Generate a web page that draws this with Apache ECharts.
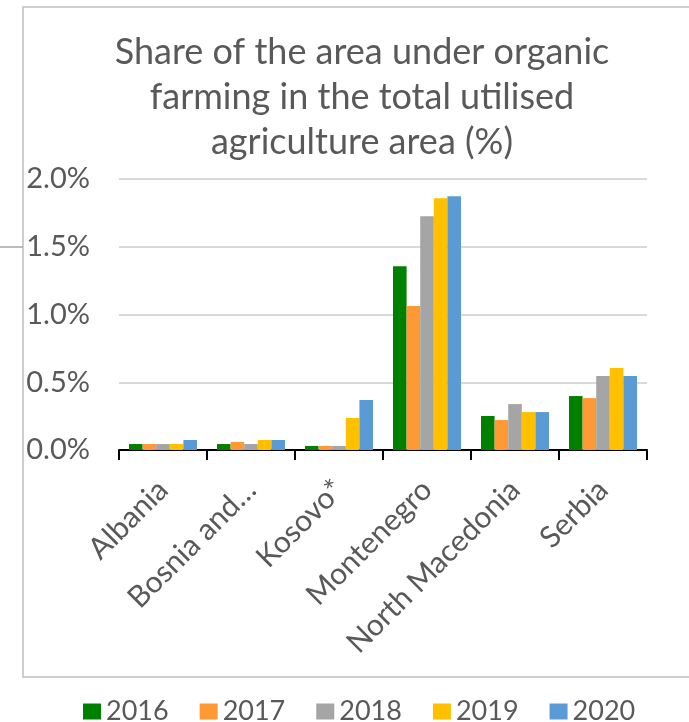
<!DOCTYPE html>
<html><head><meta charset="utf-8">
<script src="https://cdn.jsdelivr.net/npm/echarts@6/dist/echarts.min.js"></script>
<style>html,body{margin:0;padding:0;background:#fff;}#c{width:689px;height:722px;}</style>
</head><body><div id="c"></div>
<script>
const categories = ['Albania', 'Bosnia and…', 'Kosovo*', 'Montenegro', 'North Macedonia', 'Serbia'];
const years = ['2016', '2017', '2018', '2019', '2020'];
const v2016 = [0.044, 0.044, 0.03, 1.357, 0.251, 0.398];
const v2017 = [0.044, 0.059, 0.03, 1.062, 0.221, 0.383];
const v2018 = [0.044, 0.044, 0.03, 1.726, 0.339, 0.546];
const v2019 = [0.044, 0.074, 0.236, 1.858, 0.28, 0.605];
const v2020 = [0.074, 0.074, 0.369, 1.873, 0.28, 0.546];
const yTicks = [0, 0.5, 1.0, 1.5, 2.0];
const colors = ['#008000', '#FF9933', '#A5A5A5', '#FFC000', '#5B9BD5'];
const titleText = 'Share of the area under organic\nfarming in the total utilised\nagriculture area (%)';

const seriesValues = [v2016, v2017, v2018, v2019, v2020];
const FONT = 'Lato';
const chart = echarts.init(document.getElementById('c'));
chart.setOption({
  animation: false,
  color: colors,
  graphic: [
    { type: 'rect', shape: { x: 23, y: 7, width: 700, height: 670 }, style: { fill: 'none', stroke: '#BFBFBF', lineWidth: 1.5 }, z: -1 },
    { type: 'line', shape: { x1: 0, y1: 247, x2: 23, y2: 247 }, style: { stroke: '#A6A6A6', lineWidth: 1.5 } },
    { type: 'text', x: 362, y: 30, style: { text: titleText, fill: '#595959', font: '36px ' + FONT, align: 'center', verticalAlign: 'top', lineHeight: 45 } }
  ],
  grid: { left: 119, right: 42, top: 179, bottom: 272, containLabel: false },
  legend: {
    top: 693, left: 78, itemWidth: 18, itemHeight: 16, itemGap: 31, icon: 'rect',
    textStyle: { color: '#595959', fontSize: 27, fontFamily: FONT },
    data: years
  },
  xAxis: {
    type: 'category', data: categories,
    axisLine: { lineStyle: { color: '#000', width: 2 } },
    axisTick: { show: true, length: 10, lineStyle: { color: '#000', width: 2 } },
    axisLabel: { rotate: 45, interval: 0, margin: 35, color: '#595959', fontSize: 30, fontFamily: FONT }
  },
  yAxis: {
    type: 'value', min: 0, max: 2.0, interval: 0.5,
    axisLine: { show: false }, axisTick: { show: false },
    splitLine: { lineStyle: { color: '#D9D9D9', width: 2 } },
    axisLabel: { margin: 29, color: '#595959', fontSize: 29, fontFamily: FONT,
      formatter: v => v.toFixed(1) + '%' }
  },
  series: years.map((y, i) => ({
    name: y, type: 'bar', data: seriesValues[i],
    barGap: '0%', barCategoryGap: '22.7%'
  }))
});
</script></body></html>
